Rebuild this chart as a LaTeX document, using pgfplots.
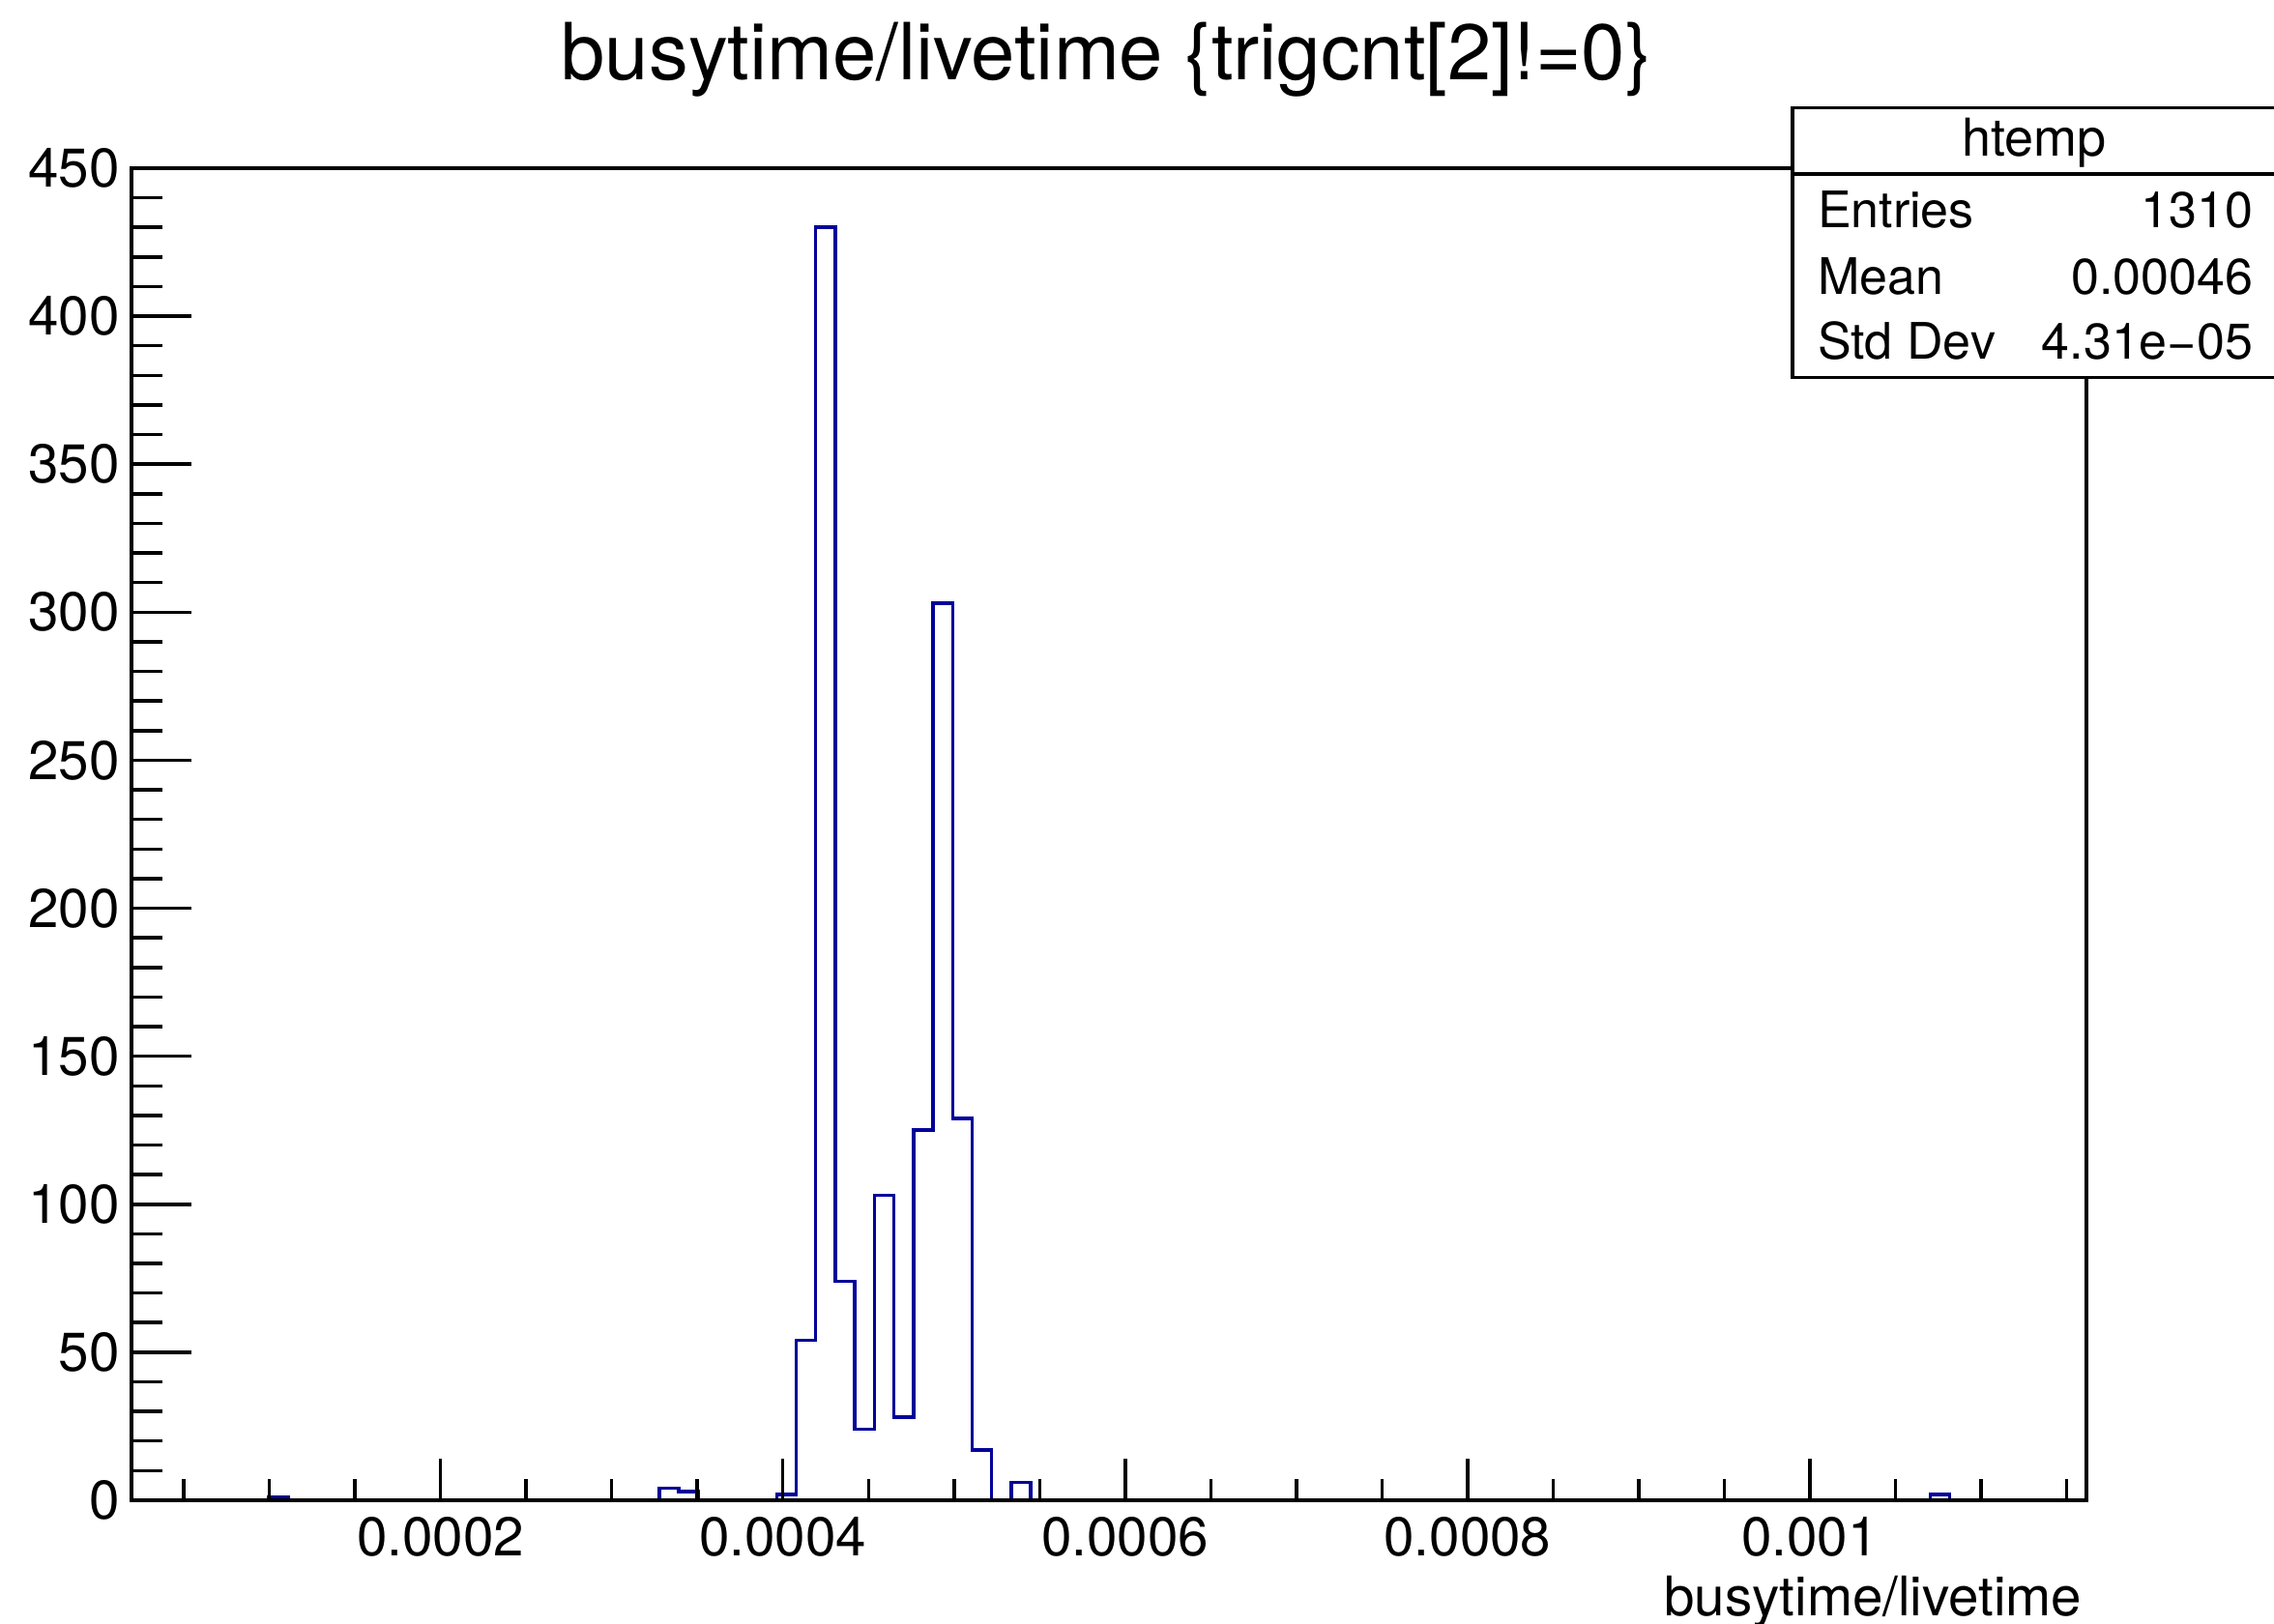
\documentclass[border=0pt]{standalone}
\usepackage{fontspec}
\setmainfont{TeX Gyre Heros}
\usepackage{pgfplots}
\pgfplotsset{compat=1.18}
\definecolor{rootblue}{RGB}{0,0,153}

\begin{document}
\begin{tikzpicture}
\begin{axis}[
  at={(27.2pt,25.6pt)}, anchor=south west,
  scale only axis, width=404.4pt, height=275.6pt,
  xmin=0.0000195, xmax=0.0011615, ymin=0, ymax=450,
  axis on top,
  axis line style={line width=0.8pt},
  tick align=inside, tick pos=left,
  scaled x ticks=false,
  xtick={0.0002,0.0004,0.0006,0.0008,0.001},
  xticklabels={0.0002,0.0004,0.0006,0.0008,0.001},
  minor xtick={0.00005,0.0001,0.00015,0.00025,0.0003,0.00035,0.00045,0.0005,0.00055,0.00065,0.0007,0.00075,0.00085,0.0009,0.00095,0.00105,0.0011,0.00115},
  ytick={0,50,...,450},
  minor y tick num=4,
  x tick style={line width=0.7pt, black, /pgfplots/major tick length=8.6pt, /pgfplots/minor tick length=4.4pt},
  y tick style={line width=0.7pt, black, /pgfplots/major tick length=12.4pt, /pgfplots/minor tick length=6.4pt},
  ticklabel style={font=\fontsize{11.3}{13}\selectfont},
  xticklabel style={anchor=base, inner sep=0pt, yshift=-11.6pt},
  yticklabel style={anchor=east, inner sep=0pt, xshift=-2.3pt},
  /pgf/number format/assume math mode=true,
]
% bin left edges (100 bins) and counts
\addplot[const plot, rootblue, line width=0.7pt] coordinates {
  (0.0000195,0) (0.00009944,1) (0.00011086,0)
  (0.00032784,4) (0.00033926,3) (0.00035068,0)
  (0.00039636,2) (0.00040778,54) (0.0004192,430) (0.00043062,74)
  (0.00044204,24) (0.00045346,103) (0.00046488,28) (0.0004763,125)
  (0.00048772,303) (0.00049914,129) (0.00051056,17) (0.00052198,0)
  (0.0005334,6) (0.00054482,0)
  (0.00107014,2) (0.00108156,0) (0.0011615,0)};
\end{axis}

% title and x label
\node[anchor=base, inner sep=0pt, font=\fontsize{16.3}{19}\selectfont] at (228.9pt,319.5pt) {busytime/livetime \{trigcnt[2]!=0\}};
\node[anchor=base east, inner sep=0pt, font=\fontsize{11.3}{13}\selectfont] at (430.8pt,1.6pt) {busytime/livetime};

% stats box
\draw[line width=0.7pt, fill=white] (370.8pt,257.9pt) rectangle (471pt,313.7pt);
\draw[line width=0.7pt] (370.8pt,300pt) -- (471pt,300pt);
\node[font=\fontsize{10.8}{13}\selectfont] at (420.8pt,306.5pt) {htemp};
\begin{scope}[every node/.style={inner sep=0pt, font=\fontsize{10.4}{12}\selectfont}]
  \node[anchor=base west] at (375.8pt,288.8pt) {Entries};
  \node[anchor=base east] at (466.2pt,288.8pt) {1310};
  \node[anchor=base west] at (375.8pt,275pt) {Mean};
  \node[anchor=base east] at (466.2pt,275pt) {0.00046};
  \node[anchor=base west] at (375.8pt,261.7pt) {Std Dev};
  \node[anchor=base east] at (466.2pt,261.7pt) {4.31e−05};
\end{scope}

\pgfresetboundingbox
\useasboundingbox (0,0) rectangle (470.4pt,336pt);
\end{tikzpicture}
\end{document}
